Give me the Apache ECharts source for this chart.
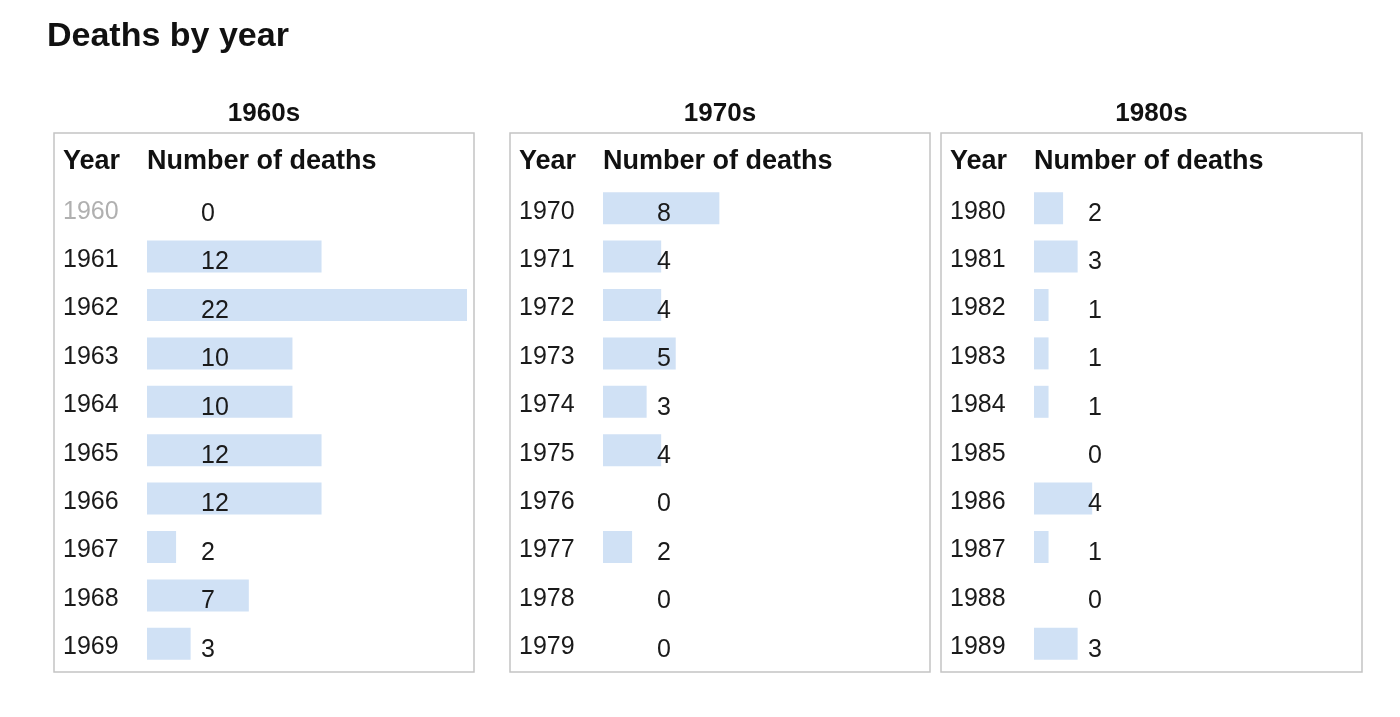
<!DOCTYPE html>
<html>
<head>
<meta charset="utf-8">
<script src="https://cdn.jsdelivr.net/npm/echarts@6/dist/echarts.min.js"></script>
<style>
html,body{margin:0;padding:0;background:#fff;}
#chart{width:1400px;height:717px;}
</style>
</head>
<body>
<div id="chart"></div>
<script>
const chartTitle = 'Deaths by year';
const panelTitles = ['1960s', '1970s', '1980s'];
const headerYear = 'Year';
const headerDeaths = 'Number of deaths';
const years1960s = ['1960','1961','1962','1963','1964','1965','1966','1967','1968','1969'];
const deaths1960s = [0, 12, 22, 10, 10, 12, 12, 2, 7, 3];
const years1970s = ['1970','1971','1972','1973','1974','1975','1976','1977','1978','1979'];
const deaths1970s = [8, 4, 4, 5, 3, 4, 0, 2, 0, 0];
const years1980s = ['1980','1981','1982','1983','1984','1985','1986','1987','1988','1989'];
const deaths1980s = [2, 3, 1, 1, 1, 0, 4, 1, 0, 3];
const greyedYears = ['1960'];

const FONT = '"Liberation Sans", Arial, sans-serif';
const panels = [
  {box: [54, 133, 420, 539], barLeft: 147, years: years1960s, values: deaths1960s},
  {box: [510, 133, 420, 539], barLeft: 603, years: years1970s, values: deaths1970s},
  {box: [941, 133, 421, 539], barLeft: 1034, years: years1980s, values: deaths1980s}
];
const xMax = 22;
const barAreaWidth = 320;
const gridTop = 184;
const gridHeight = 484;

const chart = echarts.init(document.getElementById('chart'));
const grids = [], xAxes = [], yAxes = [], series = [], graphics = [];
const titles = [{
  text: chartTitle, left: 47, top: 20, padding: 0,
  textStyle: {fontFamily: FONT, fontSize: 34, fontWeight: 'bold', color: '#111'}
}];

panels.forEach((p, i) => {
  const [bx, by, bw, bh] = p.box;
  graphics.push({
    type: 'rect', shape: {x: bx, y: by, width: bw, height: bh}, silent: true, z: -1,
    style: {fill: '#fff', stroke: '#c4c4c4', lineWidth: 1.5}
  });
  graphics.push({
    type: 'text', x: bx + 9, y: 162, silent: true,
    style: {text: headerYear, font: 'bold 27px ' + FONT, fill: '#111', verticalAlign: 'middle', align: 'left'}
  });
  graphics.push({
    type: 'text', x: p.barLeft, y: 162, silent: true,
    style: {text: headerDeaths, font: 'bold 27px ' + FONT, fill: '#111', verticalAlign: 'middle', align: 'left'}
  });
  titles.push({
    text: panelTitles[i], left: bx + bw / 2, top: 101, padding: 0, textAlign: 'center',
    textStyle: {fontFamily: FONT, fontSize: 26, fontWeight: 'bold', color: '#111'}
  });
  grids.push({left: p.barLeft, top: gridTop, width: barAreaWidth, height: gridHeight, containLabel: false});
  xAxes.push({type: 'value', gridIndex: i, min: 0, max: xMax, show: false});
  yAxes.push({
    type: 'category', gridIndex: i, inverse: true,
    data: p.years,
    axisLine: {show: false}, axisTick: {show: false}, splitLine: {show: false},
    axisLabel: {
      align: 'left', margin: p.barLeft - (bx + 9),
      formatter: (val) => (greyedYears.includes(val) ? '{g|' : '{n|') + val + '}',
      rich: {
        n: {fontSize: 25, fontFamily: FONT, color: '#1a1a1a', padding: [7, 0, 0, 0]},
        g: {fontSize: 25, fontFamily: FONT, color: '#b0b0b0', padding: [7, 0, 0, 0]}
      }
    }
  });
  series.push({
    type: 'bar', xAxisIndex: i, yAxisIndex: i, data: p.values, barWidth: 32,
    itemStyle: {color: '#d0e1f5'}, silent: true,
    label: {
      show: true, position: [54, '50%'], align: 'left', verticalAlign: 'middle', offset: [0, 6],
      fontSize: 25, fontFamily: FONT, color: '#1a1a1a'
    },
    emphasis: {disabled: true}
  });
});

chart.setOption({
  animation: false,
  backgroundColor: '#fff',
  title: titles,
  grid: grids,
  xAxis: xAxes,
  yAxis: yAxes,
  series: series,
  graphic: graphics
});
</script>
</body>
</html>
